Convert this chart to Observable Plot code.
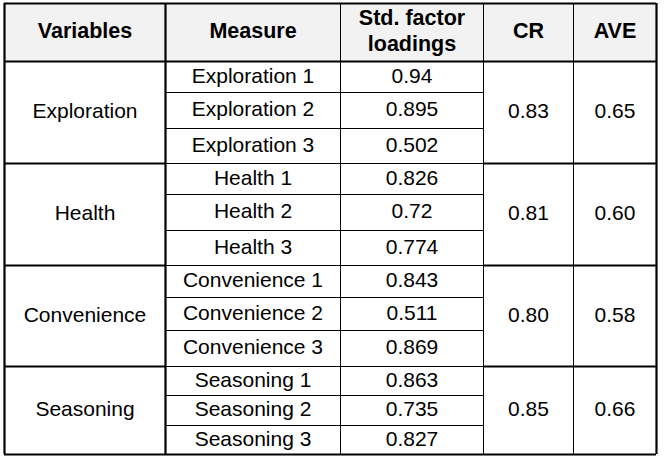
<!DOCTYPE html>
<html>
<head>
<meta charset="utf-8">
<script src="https://cdn.jsdelivr.net/npm/d3@7"></script>
<script src="https://cdn.jsdelivr.net/npm/@observablehq/plot@0.6"></script>
<style>
  html, body { margin: 0; padding: 0; background: #ffffff; }
  #chart svg { display: block; }
</style>
</head>
<body>
<div id="chart"></div>
<script>
// ---- Data ----
const headers = ["Variables", "Measure", "Std. factor\nloadings", "CR", "AVE"];
const variables = ["Exploration", "Health", "Convenience", "Seasoning"];
const measures = [
  "Exploration 1", "Exploration 2", "Exploration 3",
  "Health 1", "Health 2", "Health 3",
  "Convenience 1", "Convenience 2", "Convenience 3",
  "Seasoning 1", "Seasoning 2", "Seasoning 3"
];
const loadings = ["0.94", "0.895", "0.502", "0.826", "0.72", "0.774", "0.843", "0.511", "0.869", "0.863", "0.735", "0.827"];
const crValues = [0.83, 0.81, 0.80, 0.85];
const aveValues = [0.65, 0.60, 0.58, 0.66];

// ---- Layout (table geometry) ----
const W = 667, H = 460;
const colEdges = [4, 165, 340, 483, 573, 656];
const rowEdges = [3, 61, 92, 128, 163, 194, 230, 265, 297, 330, 366, 395, 425, 454];
const perGroup = 3;
const font = "'Liberation Sans', Arial, Helvetica, sans-serif";
const fsBody = 21;
const fsHead = 21.5;
const thick = 2.2, thin = 1;

const colMid = i => (colEdges[i] + colEdges[i + 1]) / 2;
const rowTop = r => rowEdges[r + 1];      // r = measure row index (0-based)
const rowBot = r => rowEdges[r + 2];
const groupTop = g => rowTop(g * perGroup);
const groupBot = g => rowBot(g * perGroup + perGroup - 1);
const textShift = -1;

// header cells
const headerCells = headers.map((h, i) => ({text: h, x: colMid(i), y: (rowEdges[0] + rowEdges[1]) / 2 - 3}));

// body cells
const bodyCells = [];
variables.forEach((v, g) => {
  const yc = (groupTop(g) + groupBot(g)) / 2 + textShift;
  bodyCells.push({text: v, x: colMid(0), y: yc});
  bodyCells.push({text: crValues[g].toFixed(2), x: colMid(3), y: yc});
  bodyCells.push({text: aveValues[g].toFixed(2), x: colMid(4), y: yc});
});
measures.forEach((m, r) => {
  const yc = (rowTop(r) + rowBot(r)) / 2 + textShift;
  bodyCells.push({text: m, x: colMid(1), y: yc});
  bodyCells.push({text: loadings[r], x: colMid(2), y: yc});
});

// horizontal lines
const hThick = [], hThin = [];
const L = colEdges[0], R = colEdges[colEdges.length - 1];
hThick.push({y: rowEdges[0], x1: L, x2: R});
hThick.push({y: rowEdges[1], x1: L, x2: R});
hThick.push({y: rowEdges[rowEdges.length - 1], x1: L, x2: R});
for (let g = 1; g < variables.length; g++) {
  const y = groupTop(g);
  hThick.push({y, x1: colEdges[0], x2: colEdges[1]});
  hThick.push({y, x1: colEdges[3], x2: colEdges[5]});
  hThin.push({y, x1: colEdges[1], x2: colEdges[3]});
}
measures.forEach((m, r) => {
  if (r % perGroup !== 0) hThin.push({y: rowTop(r), x1: colEdges[1], x2: colEdges[3]});
});

// vertical lines
const T = rowEdges[0], B = rowEdges[rowEdges.length - 1];
const vThick = [colEdges[0], colEdges[1], colEdges[5]].map(x => ({x, y1: T, y2: B}));
const vThin = [colEdges[2], colEdges[3], colEdges[4]].map(x => ({x, y1: T, y2: B}));

const chart = Plot.plot({
  width: W,
  height: H,
  margin: 0,
  x: {domain: [0, W], range: [0, W], axis: null},
  y: {domain: [0, H], range: [0, H], axis: null},
  style: {fontFamily: font, background: "#ffffff", color: "#000"},
  marks: [
    Plot.rect([{x1: L, x2: R, y1: T, y2: rowEdges[1]}], {x1: "x1", x2: "x2", y1: "y1", y2: "y2", fill: "#f2f2f2"}),
    Plot.ruleY(hThin, {y: "y", x1: "x1", x2: "x2", stroke: "#000", strokeWidth: thin}),
    Plot.ruleX(vThin, {x: "x", y1: "y1", y2: "y2", stroke: "#000", strokeWidth: thin}),
    Plot.ruleY(hThick, {y: "y", x1: "x1", x2: "x2", stroke: "#000", strokeWidth: thick}),
    Plot.ruleX(vThick, {x: "x", y1: "y1", y2: "y2", stroke: "#000", strokeWidth: thick}),
    Plot.text(headerCells, {x: "x", y: "y", text: "text", fontSize: fsHead, fontWeight: "bold", fill: "#000", lineHeight: 1.2}),
    Plot.text(bodyCells, {x: "x", y: "y", text: "text", fontSize: fsBody, fill: "#000"})
  ]
});
document.getElementById("chart").appendChild(chart);
</script>
</body>
</html>
